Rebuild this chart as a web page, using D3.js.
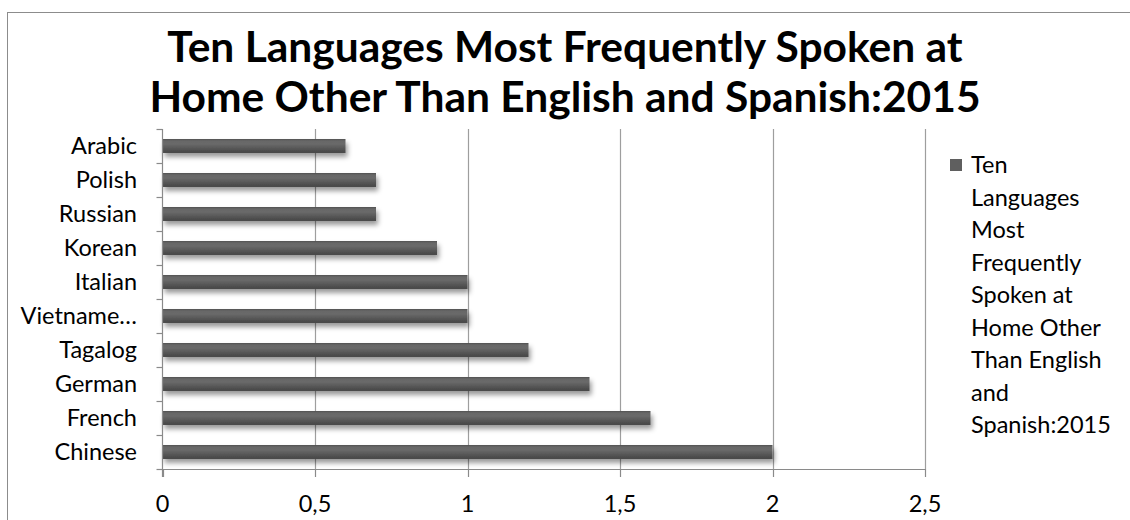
<!DOCTYPE html>
<html>
<head>
<meta charset="utf-8">
<script src="https://cdn.jsdelivr.net/npm/d3@7"></script>
<style>
  html, body { margin: 0; padding: 0; background: #fff; }
  svg { display: block; font-family: Lato, "Open Sans", sans-serif; }
</style>
</head>
<body>
<svg id="chart" width="1130" height="520"></svg>
<script>
// Languages listed top to bottom as drawn on the category axis
const languages = ["Arabic", "Polish", "Russian", "Korean", "Italian",
                   "Vietnamese", "Tagalog", "German", "French", "Chinese"];
// Speakers (millions)
const speakers = [0.6, 0.7, 0.7, 0.9, 1.0, 1.0, 1.2, 1.4, 1.6, 2.0];
const xTicks = [0, 0.5, 1, 1.5, 2, 2.5];
const titleLines = ["Ten Languages Most Frequently Spoken at",
                    "Home Other Than English and Spanish:2015"];
const legendLines = ["Ten", "Languages", "Most", "Frequently", "Spoken at",
                     "Home Other", "Than English", "and", "Spanish:2015"];

const data = languages.map((name, i) => ({ name, value: speakers[i] }));

const svg = d3.select("#chart");
const plot = { left: 162.5, right: 925, top: 129, bottom: 469 };

// Outer chart frame
svg.append("rect")
  .attr("x", 7.5).attr("y", 12.5)
  .attr("width", 1140).attr("height", 520)
  .attr("fill", "#fff").attr("stroke", "#8c8c8c").attr("stroke-width", 1);

const defs = svg.append("defs");
const grad = defs.append("linearGradient")
  .attr("id", "barFill").attr("x1", 0).attr("y1", 0).attr("x2", 0).attr("y2", 1);
[["0%", "#4a4a4a"], ["12%", "#666666"], ["35%", "#6a6a6a"],
 ["75%", "#525252"], ["100%", "#464646"]].forEach(([o, c]) =>
  grad.append("stop").attr("offset", o).attr("stop-color", c));

const shadow = defs.append("filter").attr("id", "barShadow")
  .attr("x", "-5%").attr("y", "-50%").attr("width", "115%").attr("height", "250%");
shadow.append("feDropShadow")
  .attr("dx", 2).attr("dy", 4).attr("stdDeviation", 2.5)
  .attr("flood-color", "#000").attr("flood-opacity", 0.4);

const x = d3.scaleLinear().domain([0, 2.5]).range([plot.left, plot.right]);
const y = d3.scaleBand().domain(languages).range([plot.top, plot.bottom])
  .paddingInner(0.59).paddingOuter(0.295);

// Vertical gridlines
svg.append("g").selectAll("line")
  .data(xTicks.filter(d => d > 0))
  .join("line")
  .attr("x1", d => Math.round(x(d)) + 0.5).attr("x2", d => Math.round(x(d)) + 0.5)
  .attr("y1", plot.top).attr("y2", plot.bottom)
  .attr("stroke", "#9e9e9e").attr("stroke-width", 1.2);

// Bars
svg.append("g").selectAll("rect")
  .data(data)
  .join("rect")
  .attr("x", x(0))
  .attr("y", d => y(d.name))
  .attr("width", d => x(d.value) - x(0))
  .attr("height", y.bandwidth())
  .attr("fill", "url(#barFill)")
  .attr("filter", "url(#barShadow)");

// Category axis
const yBoundaries = d3.scaleLinear().domain([0, languages.length]).range([plot.top, plot.bottom]);
const yAxis = svg.append("g");
yAxis.append("line")
  .attr("x1", plot.left).attr("x2", plot.left)
  .attr("y1", plot.top).attr("y2", plot.bottom + 8)
  .attr("stroke", "#8a8a8a").attr("stroke-width", 1.2);
yAxis.selectAll("line.tick")
  .data(d3.range(languages.length + 1))
  .join("line").attr("class", "tick")
  .attr("x1", plot.left - 6).attr("x2", plot.left)
  .attr("y1", d => Math.round(yBoundaries(d)) + 0.5)
  .attr("y2", d => Math.round(yBoundaries(d)) + 0.5)
  .attr("stroke", "#8a8a8a").attr("stroke-width", 1.2);
yAxis.selectAll("text")
  .data(languages)
  .join("text")
  .attr("x", 137)
  .attr("y", d => y(d) + y.bandwidth() / 2)
  .attr("dy", "0.35em")
  .attr("text-anchor", "end")
  .attr("font-size", 23.5)
  .attr("fill", "#000")
  .text(d => d.length > 9 ? d.slice(0, 8) + "\u2026" : d);

// Value axis
const xAxis = svg.append("g");
xAxis.append("line")
  .attr("x1", plot.left).attr("x2", plot.right)
  .attr("y1", plot.bottom + 0.5).attr("y2", plot.bottom + 0.5)
  .attr("stroke", "#8a8a8a").attr("stroke-width", 1.2);
xAxis.selectAll("line.tick")
  .data(xTicks)
  .join("line").attr("class", "tick")
  .attr("x1", d => Math.round(x(d)) + 0.5).attr("x2", d => Math.round(x(d)) + 0.5)
  .attr("y1", plot.bottom).attr("y2", plot.bottom + 8)
  .attr("stroke", "#8a8a8a").attr("stroke-width", 1.2);
xAxis.selectAll("text")
  .data(xTicks)
  .join("text")
  .attr("x", d => x(d))
  .attr("y", 512)
  .attr("text-anchor", "middle")
  .attr("font-size", 23.5)
  .attr("fill", "#000")
  .text(d => String(d).replace(".", ","));

// Title
svg.append("g").selectAll("text")
  .data(titleLines)
  .join("text")
  .attr("x", 565)
  .attr("y", (d, i) => 62 + i * 50)
  .attr("text-anchor", "middle")
  .attr("font-size", 42.5)
  .attr("font-weight", "bold")
  .attr("fill", "#000")
  .text(d => d);

// Legend
const legend = svg.append("g");
legend.append("rect")
  .attr("x", 950).attr("y", 159).attr("width", 12).attr("height", 12)
  .attr("fill", "#5f5f5f");
legend.selectAll("text")
  .data(legendLines)
  .join("text")
  .attr("x", 971)
  .attr("y", (d, i) => 173 + i * 32.5)
  .attr("font-size", 23.5)
  .attr("fill", "#000")
  .text(d => d);
</script>
</body>
</html>
